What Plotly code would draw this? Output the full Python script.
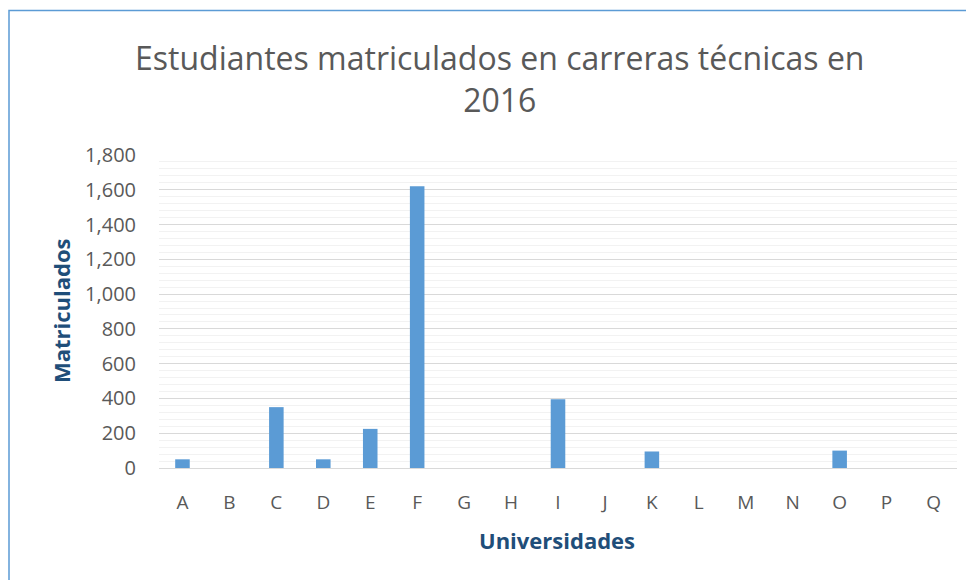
import plotly.graph_objects as go

categories = ["A", "B", "C", "D", "E", "F", "G", "H", "I", "J", "K", "L", "M", "N", "O", "P", "Q"]
values = [50, 0, 350, 50, 225, 1620, 0, 0, 395, 0, 95, 0, 0, 0, 100, 0, 0]
y_ticks = [0, 200, 400, 600, 800, 1000, 1200, 1400, 1600, 1800]
y_tick_labels = ["0", "200", "400", "600", "800", "1,000", "1,200", "1,400", "1,600", "1,800"]

W, H = 974, 580
OFF = 8  # page body margin offset
# target plot-area edges in page pixels
PL, PR, PT, PB = 159, 957, 155, 468
L = PL - OFF
R = W - (PR - OFF)
T = PT - OFF
B = H - (PB - OFF)
pw, ph = W - L - R, H - T - B

def px_x(x):
    return (x - OFF - L) / pw

def px_y(y):
    return (H - B - (y - OFF)) / ph

FONT = "Open Sans"

fig = go.Figure(go.Bar(
    x=categories, y=values,
    marker=dict(color="#5B9BD5", line=dict(width=0)),
    width=0.31,
))

fig.update_layout(
    width=W, height=H,
    margin=dict(l=L, r=R, t=T, b=B),
    paper_bgcolor="white", plot_bgcolor="white",
    showlegend=False,
    font=dict(family=FONT, color="#595959"),
    xaxis=dict(
        showgrid=False, showline=False, zeroline=False, ticks="",
        tickfont=dict(size=19, color="#595959"),
        ticklabelstandoff=21,
        range=[-0.5, 16.5],
    ),
    yaxis=dict(
        range=[0, 1800],
        tickvals=y_ticks, ticktext=y_tick_labels,
        showgrid=True, gridcolor="#D9D9D9", gridwidth=1.3,
        zeroline=True, zerolinecolor="#D9D9D9", zerolinewidth=1.3,
        showline=False, ticks="",
        tickfont=dict(size=20, color="#595959"),
        ticklabelstandoff=22,
        minor=dict(dtick=40, showgrid=True, gridcolor="#F2F2F2", gridwidth=1.3),
    ),
    annotations=[
        dict(text="Estudiantes matriculados en carreras técnicas en<br>2016",
             xref="paper", yref="paper",
             x=px_x(499), y=px_y(79), xanchor="center", yanchor="middle",
             showarrow=False, font=dict(size=32, color="#595959", family=FONT)),
        dict(text="<b>Matriculados</b>", xref="paper", yref="paper",
             x=px_x(61), y=px_y(311), xanchor="center", yanchor="middle",
             textangle=-90, showarrow=False,
             font=dict(size=22, color="#1F4E79", family=FONT)),
        dict(text="<b>Universidades</b>", xref="paper", yref="paper",
             x=px_x(557), y=px_y(540), xanchor="center", yanchor="middle",
             showarrow=False,
             font=dict(size=22, color="#1F4E79", family=FONT)),
    ],
    shapes=[
        dict(type="rect", xref="paper", yref="paper",
             x0=px_x(9), x1=px_x(1000), y0=px_y(620), y1=px_y(10.5),
             line=dict(color="#5B9BD5", width=1.5), fillcolor="rgba(0,0,0,0)",
             layer="above"),
    ],
)

fig.write_html("out.html")
